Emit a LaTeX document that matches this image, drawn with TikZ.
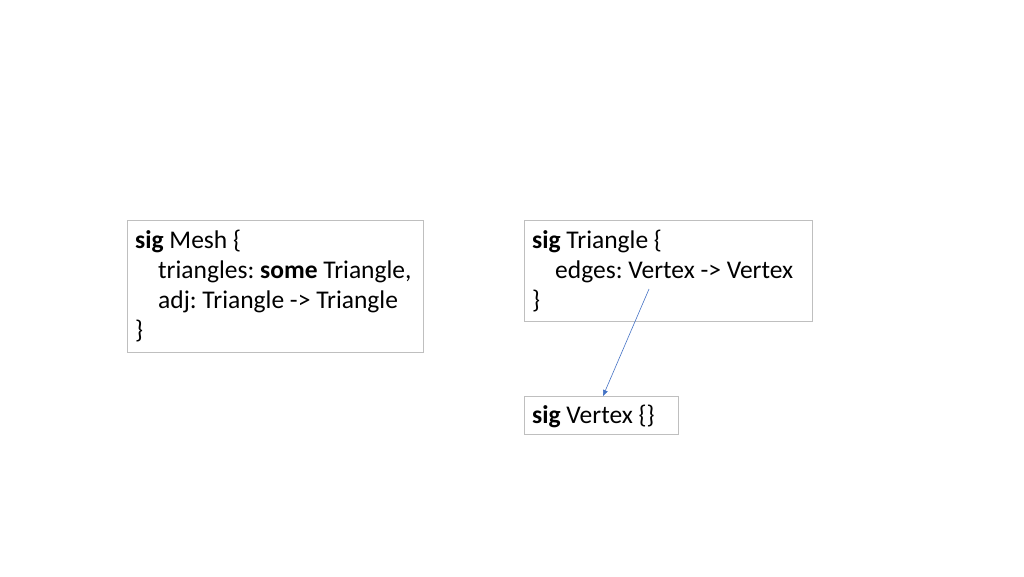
\documentclass[tikz,border=0pt]{standalone}
\usepackage{fontspec}
\setmainfont{Carlito}
\usetikzlibrary{arrows.meta}
\definecolor{boxgray}{RGB}{191,191,191}
\definecolor{arrowblue}{RGB}{68,114,196}
\frenchspacing
\begin{document}
\begin{tikzpicture}[x=1pt,y=-1pt,
  box/.style={draw=boxgray, line width=0.8pt, anchor=north west, inner sep=0pt},
  txt/.style={anchor=base west, inner sep=0pt, font=\fontsize{25.5}{30}\selectfont},
  link/.style={draw=arrowblue, line width=0.6pt, -{Triangle[length=6pt,width=5pt]}}]
\useasboundingbox (0,0) rectangle (1024,576);
% Mesh
\node[box, minimum width=296pt, minimum height=132pt] (mesh) at (127,220) {};
\node[txt] (m1) at (135,248) {\textbf{sig} Mesh \{};
\node[txt] (m2) at (158,278) {triangles: \textbf{some} Triangle,};
\node[txt] (m3) at (158,308) {adj: Triangle -> Triangle};
\node[txt] (m4) at (135,338) {\}};
% Triangle
\node[box, minimum width=288pt, minimum height=101pt] (tri) at (524,220) {};
\node[txt] (t1) at (532,248) {\textbf{sig} Triangle \{};
\node[txt] (t2) at (555,278) {edges: Vertex -> Vertex};
\node[txt] (t3) at (532,308) {\}};
% Vertex
\node[box, minimum width=154pt, minimum height=38pt] (vert) at (524,396) {};
\node[txt] (v1) at (532,423) {\textbf{sig} Vertex \{\}};
% arrow
\coordinate (astart) at (649,289);
\coordinate (aend) at (603,396);
\draw[link] (astart) -- (aend);
\end{tikzpicture}
\end{document}
